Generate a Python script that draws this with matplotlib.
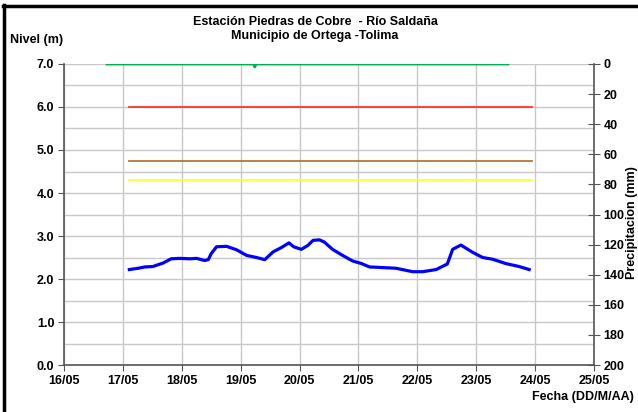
import pandas as pd
import matplotlib
matplotlib.use("Agg")
import matplotlib.pyplot as plt
import matplotlib.dates as mdates
from matplotlib.lines import Line2D

plt.rcParams['font.family'] = ['Liberation Sans', 'DejaVu Sans']
plt.rcParams['font.weight'] = 'bold'
plt.rcParams['font.size'] = 9

base = pd.Timestamp("2000-05-16")

# nivel (m), dias desde 16/05
nivel_dias = [1.11, 1.26, 1.37, 1.51, 1.57, 1.68, 1.82, 1.97, 2.14, 2.25, 2.39, 2.45,
              2.50, 2.59, 2.76, 2.93, 3.10, 3.27, 3.41, 3.55, 3.69, 3.82, 3.90, 4.03,
              4.14, 4.23, 4.34, 4.42, 4.56, 4.73, 4.90, 5.05, 5.19, 5.36, 5.64, 5.92,
              6.09, 6.32, 6.51, 6.60, 6.74, 6.94, 7.11, 7.28, 7.50, 7.73, 7.90]
nivel_m = [2.22, 2.25, 2.28, 2.29, 2.32, 2.37, 2.47, 2.48, 2.47, 2.48, 2.43, 2.45,
           2.59, 2.75, 2.76, 2.68, 2.55, 2.50, 2.45, 2.63, 2.73, 2.84, 2.75, 2.69,
           2.78, 2.90, 2.91, 2.86, 2.69, 2.55, 2.42, 2.36, 2.28, 2.27, 2.25, 2.17,
           2.17, 2.22, 2.35, 2.69, 2.79, 2.62, 2.50, 2.46, 2.36, 2.29, 2.22]

# precipitacion (mm)
precip_dias = [0.73, 3.22, 3.24, 3.26, 7.54]
precip_mm = [0, 0, 2, 0, 0]

# niveles de alerta
umbral_dias = [1.10, 7.94]
umbral_rojo = 6.0
umbral_naranja = 4.75
umbral_amarillo = 4.3

def to_dates(dias):
    return [base + pd.Timedelta(days=d) for d in dias]

fig = plt.figure(figsize=(6.38, 4.12), dpi=100)
ax = fig.add_axes([0.1003, 0.114, 0.8307, 0.7307])

ud = to_dates(umbral_dias)
ax.plot(ud, [umbral_rojo] * 2, color='#FF3333', lw=1.3)
ax.plot(ud, [umbral_naranja] * 2, color='#B5773A', lw=1.3)
ax.plot(ud, [umbral_amarillo] * 2, color='#FFFF33', lw=1.3)
ax.plot(to_dates(nivel_dias), nivel_m, color='#0000FF', lw=2.3)

ax.set_ylim(0, 7)
ax.set_xlim(base, base + pd.Timedelta(days=9))
ax.set_yticks([i * 1.0 for i in range(8)])
ax.set_yticks([i * 0.5 for i in range(15)], minor=True)
ax.yaxis.set_major_formatter(matplotlib.ticker.FormatStrFormatter('%.1f'))
ax.xaxis.set_major_locator(mdates.DayLocator())
ax.xaxis.set_major_formatter(mdates.DateFormatter('%d/%m'))
ax.grid(True, which='both', color='#C8C8C8', lw=1)
ax.tick_params(axis='y', which='minor', length=0)
ax.tick_params(axis='both', which='major', length=4, color='#555555', pad=3)
ax.set_axisbelow(True)
for s in ['top', 'right']:
    ax.spines[s].set_visible(False)
for s in ['left', 'bottom']:
    ax.spines[s].set_color('#555555')
    ax.spines[s].set_linewidth(1.2)

ax2 = ax.twinx()
ax2.plot(to_dates(precip_dias), precip_mm, color='#00B050', lw=2)
ax2.set_ylim(200, 0)
ax2.set_yticks(range(0, 201, 20))
ax2.tick_params(axis='y', direction='inout', length=8, color='#555555', pad=3)
for s in ['top', 'left', 'bottom']:
    ax2.spines[s].set_visible(False)
ax2.spines['right'].set_color('#555555')
ax2.spines['right'].set_linewidth(1.2)
ax2.set_xlim(base, base + pd.Timedelta(days=9))

fig.text(0.494, 0.947, 'Estación Piedras de Cobre  - Río Saldaña', ha='center', va='center', fontsize=9)
fig.text(0.494, 0.913, 'Municipio de Ortega -Tolima', ha='center', va='center', fontsize=9)
fig.text(0.016, 0.903, 'Nivel (m)', ha='left', va='center', fontsize=9)
fig.text(0.994, 0.036, 'Fecha (DD/M/AA)', ha='right', va='center', fontsize=9)
fig.text(0.99, 0.46, 'Precipitacion (mm)', ha='center', va='center', rotation=90, fontsize=9)

# marco
fig.add_artist(Line2D([0.007, 0.007], [0, 0.988], transform=fig.transFigure, color='black', lw=2.5))
fig.add_artist(Line2D([0.005, 1], [0.986, 0.986], transform=fig.transFigure, color='black', lw=2.5))

fig.savefig('out.png', dpi=100)
